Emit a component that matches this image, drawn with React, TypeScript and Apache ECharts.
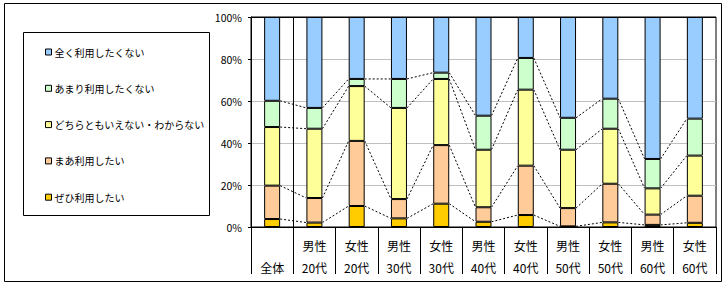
import React, { useEffect, useRef } from "react";
import * as echarts from "echarts";

const categories = ["全体", "男性20代", "女性20代", "男性30代", "女性30代", "男性40代", "女性40代", "男性50代", "女性50代", "男性60代", "女性60代"];
const seriesNames = ["ぜひ利用したい", "まあ利用したい", "どちらともいえない・わからない", "あまり利用したくない", "全く利用したくない"];
const legendOrder = ["全く利用したくない", "あまり利用したくない", "どちらともいえない・わからない", "まあ利用したい", "ぜひ利用したい"];
const zehi = [3.8, 2.1, 10.0, 4.1, 11.1, 2.5, 5.7, 0.3, 2.2, 1.0, 2.0];
const maa = [15.9, 11.7, 31.0, 9.2, 27.9, 6.9, 23.5, 8.7, 18.4, 4.9, 12.9];
const dochira = [27.9, 33.0, 26.1, 43.4, 31.5, 27.4, 36.2, 27.8, 26.2, 12.5, 19.1];
const amari = [12.5, 9.9, 3.4, 13.8, 3.0, 16.2, 15.1, 15.2, 14.3, 14.0, 17.6];
const mattaku = [39.9, 43.3, 29.5, 29.5, 26.5, 47.0, 19.5, 48.0, 38.9, 67.6, 48.4];
const yTicks = [0, 20, 40, 60, 80, 100];

const colors = ["#FFCC00", "#FFCC99", "#FFFF99", "#CCFFCC", "#99CCFF"];
const BAR_W = 16;
const FONT = "'Noto Sans CJK JP', sans-serif";

export default function App() {
  const ref = useRef<HTMLDivElement>(null);
  useEffect(() => {
    if (!ref.current) return;
    const chart = echarts.init(ref.current, null, { renderer: "svg" });
    const values = [zehi, maa, dochira, amari, mattaku];
    const cum: number[][] = [];
    let run = categories.map(() => 0);
    for (let k = 0; k < 4; k++) {
      run = run.map((v, i) => v + values[k][i]);
      cum.push(run.slice());
    }
    const lineData: number[][] = [];
    for (let i = 0; i < categories.length - 1; i++) {
      for (let k = 0; k < 4; k++) lineData.push([i, cum[k][i], cum[k][i + 1]]);
    }
    const barSeries = values.map((d, k) => ({
      name: seriesNames[k],
      type: "bar",
      stack: "all",
      barWidth: BAR_W,
      data: d,
      itemStyle: { color: colors[k], borderColor: "#000", borderWidth: 1 },
    }));
    const yMin = yTicks[0];
    const yMax = yTicks[yTicks.length - 1];
    const baseGraphic: any[] = [
      { id: "outer", type: "rect", z: -10, shape: { x: 4.5, y: 3.5, width: 717, height: 278 }, style: { fill: "#fff", stroke: "#000", lineWidth: 1 } },
      { id: "legendBox", type: "rect", z: 0, shape: { x: 23.5, y: 32.5, width: 186, height: 183 }, style: { fill: "#fff", stroke: "#000", lineWidth: 1 } },
    ];
    chart.setOption({
      animation: false,
      textStyle: { fontFamily: FONT },
      grid: { left: 251, top: 17, right: 12, bottom: 60, show: true, borderColor: "#000", borderWidth: 1, backgroundColor: "#fff" },
      graphic: baseGraphic,
      legend: {
        data: legendOrder,
        orient: "vertical",
        left: 40,
        top: 40,
        icon: "rect",
        itemWidth: 6,
        itemHeight: 6,
        itemGap: 22.3,
        z: 5,
        itemStyle: { borderColor: "#000", borderWidth: 1 },
        textStyle: { fontFamily: FONT, fontSize: 10, lineHeight: 14, color: "#000", padding: [0, 0, 0, -2] },
      },
      xAxis: {
        type: "category",
        data: categories,
        axisLine: { lineStyle: { color: "#000" } },
        axisTick: { show: true, interval: 0, length: 47, lineStyle: { color: "#000" } },
        axisLabel: {
          interval: 0,
          margin: 7,
          fontSize: 12,
          lineHeight: 22,
          color: "#000",
          fontFamily: FONT,
          formatter: (v: string) => (v.length > 2 ? v.slice(0, 2) + "\n" + v.slice(2) : "\n" + v),
        },
      },
      yAxis: {
        type: "value",
        min: yMin,
        max: yMax,
        interval: 20,
        axisLine: { show: true, lineStyle: { color: "#000" } },
        axisTick: { show: true, length: 3, lineStyle: { color: "#000" } },
        axisLabel: { formatter: "{value}%", margin: 9, fontSize: 10.5, color: "#000", fontFamily: FONT },
        splitLine: { lineStyle: { color: ["#000", "#C0C0C0", "#C0C0C0", "#C0C0C0", "#C0C0C0", "#000"] } },
      },
      series: [
        ...barSeries,
        {
          name: "series-lines",
          type: "custom",
          data: lineData,
          encode: { x: 0, y: 1 },
          z: 3,
          silent: true,
          renderItem: (_params: any, api: any) => {
            const i = api.value(0);
            const a = api.value(1);
            const b = api.value(2);
            const p1 = api.coord([i, a]);
            const p2 = api.coord([i + 1, b]);
            return {
              type: "line",
              shape: { x1: p1[0] + BAR_W / 2, y1: p1[1], x2: p2[0] - BAR_W / 2, y2: p2[1] },
              style: { stroke: "#000", lineWidth: 1, lineDash: [2, 2], fill: null },
            };
          },
        },
      ],
    });
    // separator between 全体 and the breakdown, placed via the axis scales
    const xa = chart.convertToPixel({ xAxisIndex: 0 }, categories[0]) as number;
    const xb = chart.convertToPixel({ xAxisIndex: 0 }, categories[1]) as number;
    const yt = chart.convertToPixel({ yAxisIndex: 0 }, yMax) as number;
    const yb = chart.convertToPixel({ yAxisIndex: 0 }, yMin) as number;
    if ([xa, xb, yt, yb].every((v) => typeof v === "number" && isFinite(v))) {
      const sx = Math.round((xa + xb) / 2) + 0.5;
      chart.setOption({
        graphic: [
          ...baseGraphic,
          { id: "sep", type: "line", z: 100, shape: { x1: sx, y1: yt, x2: sx, y2: yb }, style: { stroke: "#000", lineWidth: 1 } },
        ],
      });
    }
    return () => chart.dispose();
  }, []);
  return <div ref={ref} style={{ position: "absolute", left: 0, top: 0, width: 728, height: 287 }} />;
}
